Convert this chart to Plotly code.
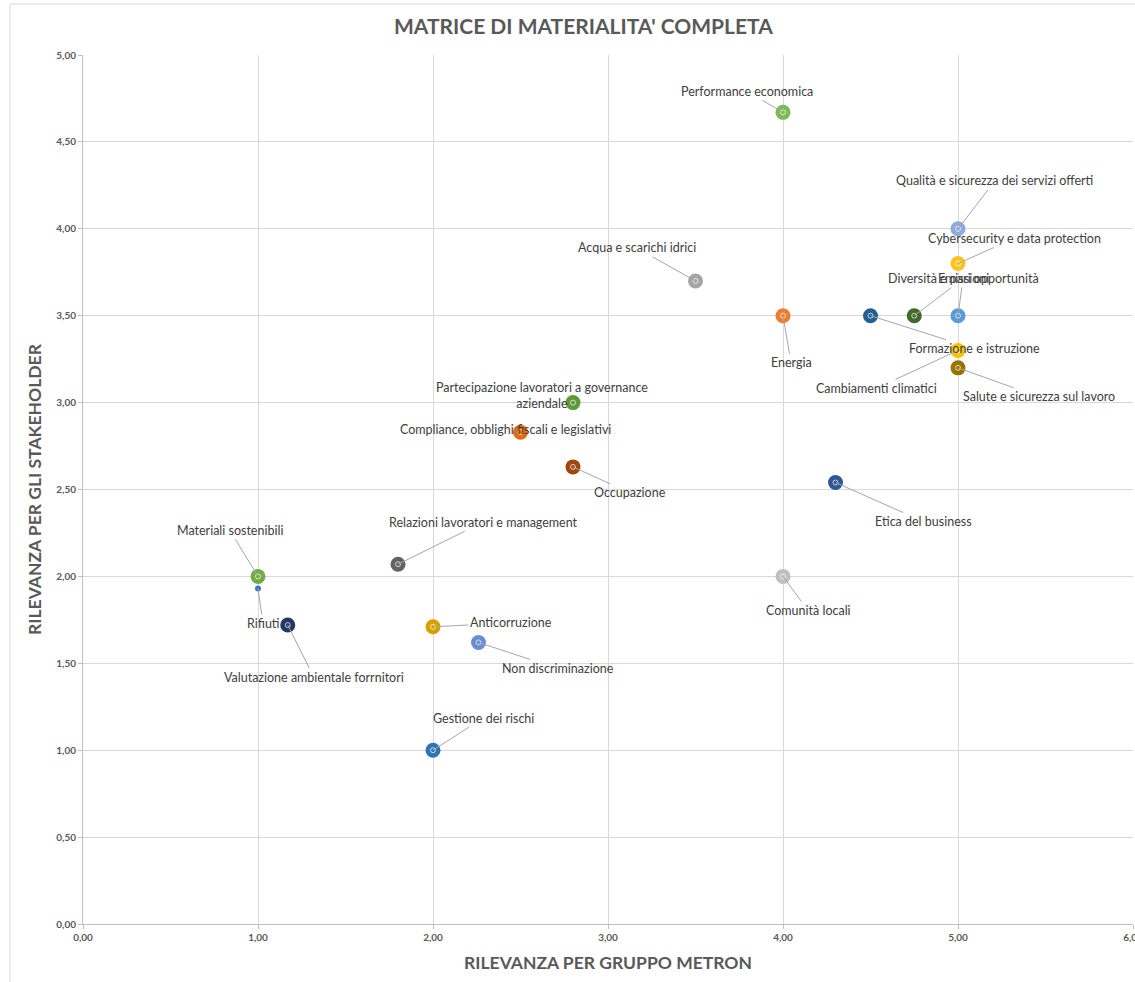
import plotly.graph_objects as go

topics = [
    "Performance economica",
    "Qualità e sicurezza dei servizi offerti",
    "Cybersecurity e data protection",
    "Emissioni",
    "Diversità e pari opportunità",
    "Formazione e istruzione",
    "Energia",
    "Cambiamenti climatici",
    "Salute e sicurezza sul lavoro",
    "Acqua e scarichi idrici",
    "Partecipazione lavoratori a governance<br>aziendale",
    "Compliance, obblighi fiscali e legislativi",
    "Occupazione",
    "Etica del business",
    "Relazioni lavoratori e management",
    "Materiali sostenibili",
    "Rifiuti",
    "Valutazione ambientale forrnitori",
    "Anticorruzione",
    "Non discriminazione",
    "Comunità locali",
    "Gestione dei rischi",
]
rilevanza_metron = [4.00, 5.00, 5.00, 5.00, 4.75, 4.50, 4.00, 5.00, 5.00, 3.50, 2.80,
                    2.50, 2.80, 4.30, 1.80, 1.00, 1.00, 1.17, 2.00, 2.26, 4.00, 2.00]
rilevanza_stakeholder = [4.67, 4.00, 3.80, 3.50, 3.50, 3.50, 3.50, 3.30, 3.20, 3.70, 3.00,
                         2.83, 2.63, 2.54, 2.07, 2.00, 1.93, 1.72, 1.71, 1.62, 2.00, 1.00]
colors = ["#7DB956", "#8FAADC", "#FFC31F", "#5B9BD5", "#43682B", "#255E91", "#ED7D31",
          "#FFC000", "#997300", "#A5A5A5", "#5F9A3A", "#E46C0A", "#9E480E", "#2F5597",
          "#636363", "#70AD47", "#4472C4", "#203864", "#D6A100", "#698ED0", "#BFBFBF",
          "#2E75B6"]
sizes = [15, 15, 15, 15, 15, 15, 15, 15, 15, 15, 15, 15, 15, 15, 15, 15, 6, 15, 15, 15, 15, 15]
# label offsets (pixels) text-center relative to point
label_dx = [-36, 37, 56, 5, 49, 104, 8, -82, 81, -59, -31, -15, 57, 88, 85, -28, 5, 26, 78, 79, 25, 50]
label_dy = [-21, -48, -25, -37, -37, 33, 47, 38, 29, -33, -7, -3, 26, 39, -42, -46, 35, 52, -4, 26, 34, -32]

x_ticks = [0, 1, 2, 3, 4, 5, 6]
y_ticks = [0, 0.5, 1, 1.5, 2, 2.5, 3, 3.5, 4, 4.5, 5]

FONT = "Lato, 'Open Sans', sans-serif"

fig = go.Figure()
fig.add_trace(go.Scatter(
    x=rilevanza_metron, y=rilevanza_stakeholder, mode="markers",
    marker=dict(color=colors, size=sizes, opacity=1, line=dict(width=0)),
    hoverinfo="text", hovertext=topics, showlegend=False))
ring_x = [x for x, s in zip(rilevanza_metron, sizes) if s > 8]
ring_y = [y for y, s in zip(rilevanza_stakeholder, sizes) if s > 8]
fig.add_trace(go.Scatter(
    x=ring_x, y=ring_y, mode="markers",
    marker=dict(symbol="circle-open", size=5, opacity=1, color="rgba(255,255,255,0.7)", line=dict(width=1)),
    hoverinfo="skip", showlegend=False))

for t, x, y, dx, dy in zip(topics, rilevanza_metron, rilevanza_stakeholder, label_dx, label_dy):
    fig.add_annotation(x=x, y=y, text=t, showarrow=True, arrowhead=0, arrowwidth=1,
                       arrowcolor="#A6A6A6", ax=dx, ay=dy, standoff=0,
                       font=dict(family=FONT, size=12.5, color="#404040"))

def fmt(v):
    return f"{v:.2f}".replace(".", ",")

fig.update_xaxes(range=[0, 6], tickvals=x_ticks, ticktext=[fmt(v) for v in x_ticks],
                 showgrid=True, gridcolor="#D9D9D9", gridwidth=1, zeroline=False,
                 showline=True, linecolor="#BFBFBF", linewidth=1, automargin=False,
                 ticks="outside", ticklen=4, tickcolor="#BFBFBF", ticklabeloverflow="allow",
                 tickfont=dict(family=FONT, size=10, color="#595959", weight="bold"),
                 title=dict(text="RILEVANZA PER GRUPPO METRON", standoff=14,
                            font=dict(family=FONT, size=17.5, color="#595959", weight="bold")))
fig.update_yaxes(range=[0, 5], tickvals=y_ticks, ticktext=[fmt(v) for v in y_ticks],
                 showgrid=True, gridcolor="#D9D9D9", gridwidth=1, zeroline=False,
                 showline=True, linecolor="#BFBFBF", linewidth=1, automargin=False,
                 ticks="outside", ticklen=4, tickcolor="#BFBFBF",
                 tickfont=dict(family=FONT, size=10, color="#595959", weight="bold"),
                 title=dict(text="RILEVANZA PER GLI STAKEHOLDER", standoff=10,
                            font=dict(family=FONT, size=17.5, color="#595959", weight="bold")))

fig.add_shape(type="rect", xref="paper", yref="paper", x0=-0.0695, x1=1.05, y0=-0.2, y1=1.0587,
              line=dict(color="#D9D9D9", width=1), fillcolor="rgba(0,0,0,0)", layer="below")

fig.update_layout(
    width=1135, height=982,
    margin=dict(l=83, r=2, t=55, b=58),
    paper_bgcolor="white", plot_bgcolor="white",
    title=dict(text="MATRICE DI MATERIALITA' COMPLETA", x=0.514, xanchor="center", y=0.973, yanchor="middle",
               font=dict(family=FONT, size=21, color="#595959", weight="bold")),
)

fig.write_html("out.html", config={"displayModeBar": False},
               post_script="document.body.style.margin='0';document.body.style.overflow='hidden';")
